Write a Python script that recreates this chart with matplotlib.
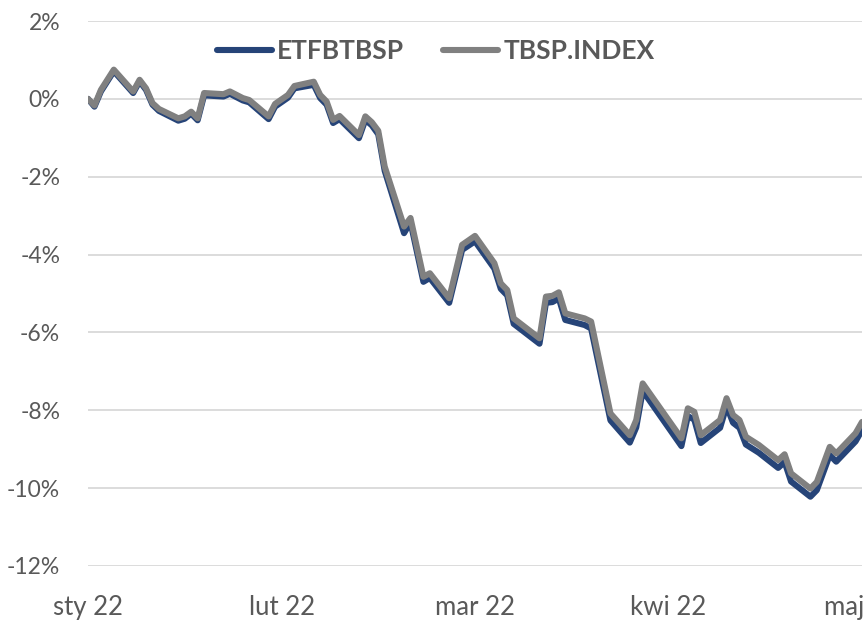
import matplotlib
matplotlib.use("Agg")
import matplotlib.pyplot as plt
from matplotlib.ticker import FuncFormatter

plt.rcParams['font.family'] = ['Lato', 'DejaVu Sans']

# day offsets from 2022-01-03 (vertices)
days = [0, 1, 2, 4, 7, 8, 9, 10, 11, 14, 15, 16, 17, 18, 21, 22, 24, 25, 28, 29,
        31, 32, 35, 36, 37, 38, 39, 42, 43, 44, 45, 46, 49, 50, 52, 53, 56, 58, 60,
        63, 64, 65, 66, 70, 71, 72, 73, 74, 77, 78, 81, 84, 85, 86, 92, 93, 94, 95,
        98, 99, 100, 101, 102, 104, 105, 107, 108, 109, 112, 113, 115, 116, 119, 120]

tbsp_index = [0.00, -0.17, 0.23, 0.75, 0.19, 0.49, 0.27, -0.11, -0.26, -0.50, -0.45,
              -0.33, -0.50, 0.15, 0.12, 0.19, 0.02, -0.03, -0.45, -0.13,
              0.10, 0.33, 0.44, 0.10, -0.07, -0.54, -0.44, -0.93, -0.45, -0.60, -0.82,
              -1.74, -3.28, -3.06, -4.57, -4.48, -5.12, -3.75, -3.52,
              -4.22, -4.74, -4.91, -5.64, -6.15, -5.08, -5.06, -4.97, -5.51, -5.64,
              -5.72, -8.08, -8.64, -8.25, -7.31, -8.72, -7.95, -8.04, -8.64,
              -8.25, -7.69, -8.12, -8.25, -8.68, -8.89, -9.02, -9.28, -9.13, -9.62,
              -10.01, -9.84, -8.94, -9.11, -8.59, -8.30]

etfbtbsp = [0.00, -0.20, 0.19, 0.71, 0.15, 0.45, 0.23, -0.15, -0.31, -0.56, -0.51,
            -0.38, -0.55, 0.09, 0.06, 0.13, -0.04, -0.09, -0.52, -0.20,
            0.03, 0.27, 0.36, 0.02, -0.15, -0.62, -0.52, -1.01, -0.54, -0.68, -0.91,
            -1.85, -3.45, -3.17, -4.70, -4.60, -5.24, -3.88, -3.66,
            -4.36, -4.88, -5.05, -5.78, -6.29, -5.24, -5.22, -5.13, -5.68, -5.81,
            -5.90, -8.26, -8.83, -8.44, -7.50, -8.92, -8.15, -8.24, -8.84,
            -8.45, -7.89, -8.32, -8.45, -8.88, -9.09, -9.22, -9.48, -9.33, -9.83,
            -10.22, -10.05, -9.15, -9.32, -8.80, -8.51]

tick_pos = [0, 30, 60, 90, 120]
tick_labels = ["sty 22", "lut 22", "mar 22", "kwi 22", "maj 22"]

navy = "#264478"
gray = "#808080"
txt = "#595959"

fig = plt.figure(figsize=(8.63, 6.20), dpi=100)
ax = fig.add_axes([88/863, (620-566)/620, (862-88)/863, (566-21)/620])

ax.plot(days, etfbtbsp, color=navy, lw=4.4, label="ETFBTBSP", solid_joinstyle='round', solid_capstyle='round')
ax.plot(days, tbsp_index, color=gray, lw=4.4, label="TBSP.INDEX", solid_joinstyle='round', solid_capstyle='round')

ax.set_xlim(0, 120)
ax.set_ylim(-12, 2)
ax.set_yticks(range(-12, 3, 2))
ax.yaxis.set_major_formatter(FuncFormatter(lambda v, p: f"{int(v)}%"))
ax.set_xticks(tick_pos)
ax.set_xticklabels(tick_labels)

ax.grid(axis='y', color='#D9D9D9', lw=1.3)
ax.set_axisbelow(True)
for s in ax.spines.values():
    s.set_visible(False)
ax.tick_params(axis='both', length=0, labelcolor=txt)
ax.tick_params(axis='y', pad=20, labelsize=16.5)
ax.tick_params(axis='x', pad=21, labelsize=18.5)

leg = ax.legend(loc='center', bbox_to_anchor=(0.449, 0.945), ncol=2, frameon=False,
                handlelength=2.1, handletextpad=0.2, columnspacing=1.45,
                prop={'weight': 'bold', 'size': 19})
for t in leg.get_texts():
    t.set_color(txt)

fig.savefig("out.png", dpi=100)
